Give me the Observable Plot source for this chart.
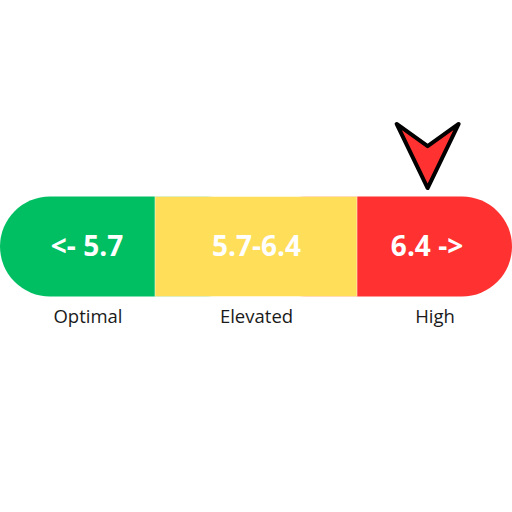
<!DOCTYPE html>
<html>
<head>
<meta charset="utf-8">
<script src="https://cdn.jsdelivr.net/npm/d3@7"></script>
<script src="https://cdn.jsdelivr.net/npm/@observablehq/plot@0.6"></script>
<style>
  body { margin: 0; background: #fff; }
  #chart svg { display: block; }
</style>
</head>
<body>
<div id="chart"></div>
<script>
// rangos de HbA1c (%)
const categorias = ['Optimal', 'Elevated', 'High']
const limites = [5.163, 5.7, 6.4, 6.937]
const etiquetas = ['<- 5.7', '5.7-6.4', '6.4 ->']
const colores = ['#00bf63', '#ffde59', '#ff3131']
const valorActual = 6.643

const segmentos = categorias.map((c, i) => ({
  cat: c, x1: limites[i], x2: limites[i + 1], label: etiquetas[i], color: colores[i]
}))
const medio = d => (d.x1 + d.x2) / 2

// flecha hacia abajo (símbolo propio para Plot.dot)
const flecha = {
  draw(ctx, size) {
    const r = Math.sqrt(size / Math.PI)
    ctx.moveTo(-0.94 * r, -0.97 * r)
    ctx.lineTo(0, -0.3 * r)
    ctx.lineTo(0.94 * r, -0.97 * r)
    ctx.lineTo(0, 0.97 * r)
    ctx.closePath()
  }
}

const chart = Plot.plot({
  width: 512,
  height: 512,
  margin: 0,
  x: { domain: [limites[0], limites[3]], axis: null },
  y: { domain: [-2.155, 2.965], axis: null },
  marks: [
    // extremos redondeados: verde y rojo con rx, el amarillo tapa las esquinas internas
    Plot.rect([segmentos[0]], { x1: d => d.x1, x2: d => medio(segmentos[1]), y1: 0, y2: 1, fill: d => d.color, rx: 50 }),
    Plot.rect([segmentos[2]], { x1: d => medio(segmentos[1]), x2: d => d.x2, y1: 0, y2: 1, fill: d => d.color, rx: 50 }),
    Plot.rect([segmentos[1]], { x1: d => d.x1, x2: d => d.x2, y1: 0, y2: 1, fill: d => d.color, stroke: '#fff', strokeWidth: 0.8, strokeOpacity: 0.6 }),
    Plot.text(segmentos, {
      x: medio, y: 0.5, text: 'label', fill: '#fff',
      fontSize: 28, fontWeight: 'bold', fontFamily: 'Open Sans', className: 'dentro'
    }),
    Plot.text(segmentos, {
      x: medio, y: -0.2, text: 'cat', fill: '#1a1a1a',
      fontSize: 18.5, fontFamily: 'Open Sans', className: 'debajo'
    }),
    Plot.dot([valorActual], {
      x: d => d, y: 1.41, r: 33, symbol: flecha,
      fill: '#ff3131', stroke: '#000', strokeWidth: 4, strokeLinejoin: 'round'
    })
  ]
})

// pequeños ajustes de posición de los textos en los extremos
const dentro = d3.select(chart).selectAll('.dentro text').nodes()
d3.select(dentro[0]).attr('dx', 9)
d3.select(dentro[2]).attr('dx', -8)
const debajo = d3.select(chart).selectAll('.debajo text').nodes()
d3.select(debajo[0]).attr('dx', 10)

d3.select('#chart').append(() => chart)
</script>
</body>
</html>
